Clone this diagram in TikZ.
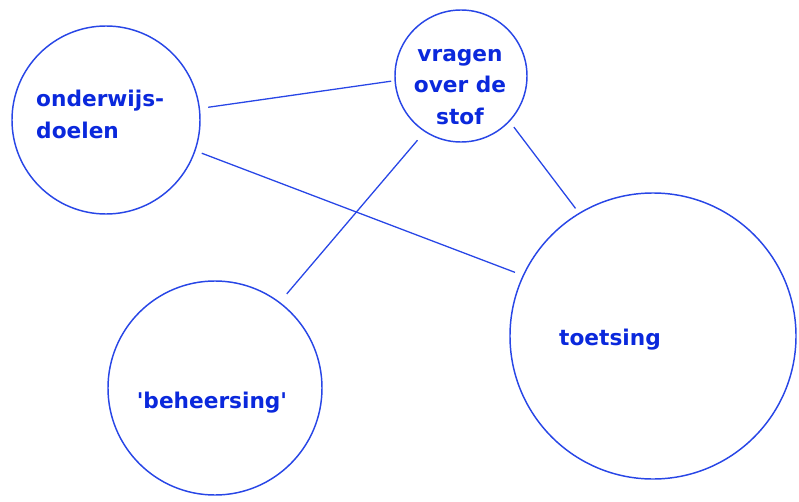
\documentclass[tikz,border=0pt]{standalone}
\usepackage{fontspec}
\newfontfamily\lblfont{DejaVu Sans}
\definecolor{cline}{RGB}{40,70,230}
\definecolor{ctext}{RGB}{10,40,220}
\begin{document}
\begin{tikzpicture}[x=0.03cm,y=-0.03cm,
  bubble/.style={circle,draw=cline,line width=1.25pt,inner sep=0pt,outer sep=0pt},
  lbl/.style={font=\lblfont\bfseries\fontsize{18.5}{26.5}\selectfont,text=ctext,inner sep=0pt},
  link/.style={draw=cline,line width=1.1pt}]
\useasboundingbox (0,0) rectangle (799,502);
\node[bubble,minimum size=5.64cm] (doel) at (106,120) {};
\node[bubble,minimum size=3.96cm] (vrag) at (461,76) {};
\node[bubble,minimum size=6.42cm] (beh) at (215,388) {};
\node[bubble,minimum size=8.58cm] (toets) at (653,336) {};
\node[lbl,anchor=base west,align=left] (tdoel) at (36,138) {onderwijs-\\doelen};
\node[lbl,anchor=base,align=center] (tvrag) at (460,124) {vragen\\over de\\stof};
\node[lbl,anchor=base] (tbeh) at (212,408) {'beheersing'};
\node[lbl,anchor=base west] (ttoets) at (559,345) {toetsing};
\draw[link,shorten <=0.27cm,shorten >=0.12cm] (doel.7.3) -- (vrag.184.9);
\draw[link,shorten <=0.22cm,shorten >=0.27cm] (doel.-19) -- (toets.155.1);
\draw[link,shorten <=0.35cm,shorten >=0.34cm] (vrag.237) -- (beh.53.2);
\draw[link,shorten <=0.23cm,shorten >=0.19cm] (vrag.-43.9) -- (toets.121);
\end{tikzpicture}
\end{document}
